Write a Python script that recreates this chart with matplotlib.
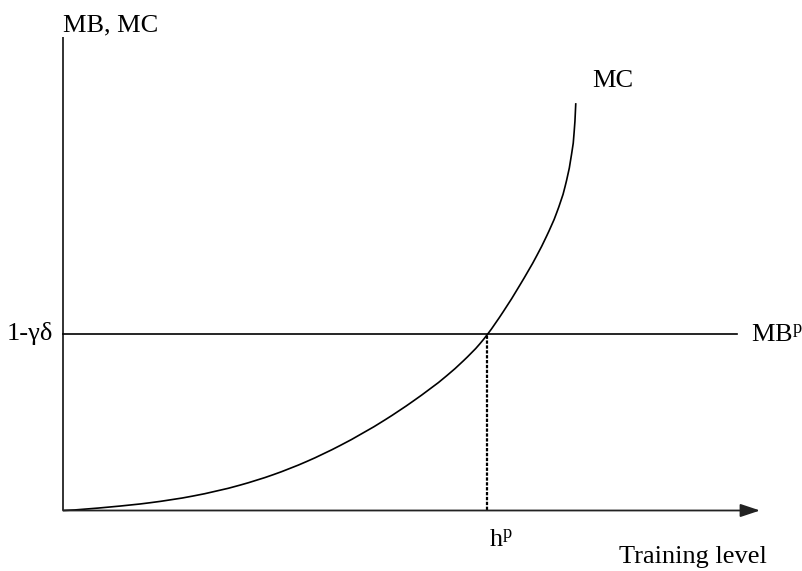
import matplotlib
matplotlib.use("Agg")
import matplotlib.pyplot as plt
from matplotlib.path import Path
from matplotlib.patches import PathPatch

plt.rcParams["font.family"] = ["Liberation Serif", "DejaVu Serif"]
plt.rcParams["mathtext.fontset"] = "custom"
plt.rcParams["mathtext.rm"] = "Liberation Serif"
plt.rcParams["mathtext.it"] = "Liberation Serif:italic"

# Marginal cost of training (training level in units of h^p, cost in units of 1-γδ)
mc_x = [0.0, 0.111, 0.205, 0.306, 0.417, 0.495, 0.574, 0.653, 0.759, 0.825,
        0.904, 0.943, 0.982, 1.0, 1.037, 1.077, 1.116, 1.139, 1.163, 1.183,
        1.196, 1.204, 1.208]
mc_y = [0.0, 0.020, 0.044, 0.082, 0.144, 0.203, 0.278, 0.369, 0.515, 0.621,
        0.765, 0.849, 0.946, 1.0, 1.128, 1.282, 1.446, 1.556, 1.690, 1.841,
        1.992, 2.144, 2.312]

# Private marginal benefit (flat) and the private optimum
mb_level = 1.0
mb_end = 1.588
h_p = 1.0

x_axis_end = 1.642
y_axis_top = 2.687


def smooth_path(xs, ys):
    """Cubic Hermite curve through the points, written as Bezier segments."""
    n = len(xs)
    h = [xs[i + 1] - xs[i] for i in range(n - 1)]
    d = [(ys[i + 1] - ys[i]) / h[i] for i in range(n - 1)]
    m = [0.0] * n
    m[0] = 0.5 * d[0]
    for i in range(1, n - 1):
        m[i] = (d[i - 1] * h[i] + d[i] * h[i - 1]) / (h[i - 1] + h[i])
    m[-1] = 1.5 * d[-1]
    verts = [(xs[0], ys[0])]
    codes = [Path.MOVETO]
    for i in range(n - 1):
        c1 = (xs[i] + h[i] / 3, ys[i] + m[i] * h[i] / 3)
        c2 = (xs[i + 1] - h[i] / 3, ys[i + 1] - m[i + 1] * h[i] / 3)
        verts += [c1, c2, (xs[i + 1], ys[i + 1])]
        codes += [Path.CURVE4] * 3
    return Path(verts, codes)


fig = plt.figure(figsize=(8.02, 5.71), dpi=100)
ax = fig.add_axes([0, 0, 1, 1])
ax.set_xlim(-0.1484, 1.7409)
ax.set_ylim(-0.3434, 2.8973)
ax.axis("off")

fs = 19

# axes
ax.plot([0, 0], [0, y_axis_top], color="#222222", lw=1.3, solid_capstyle="butt")
ax.annotate("", xy=(x_axis_end, 0), xytext=(0, 0),
            arrowprops=dict(arrowstyle="-|>,head_length=0.6,head_width=0.2",
                            mutation_scale=20, color="#222222", lw=1.3,
                            shrinkA=0, shrinkB=0))

# MB line
ax.plot([0, mb_end], [mb_level, mb_level], color="black", lw=1.2)

# MC curve
ax.add_patch(PathPatch(smooth_path(mc_x, mc_y), facecolor="none",
                       edgecolor="black", lw=1.2))

# optimum drop line
ax.plot([h_p, h_p], [0, mb_level], color="black", lw=1.6,
        linestyle=(0, (1.5, 0.7)))

# labels
ax.text(0, 2.721, "MB, MC", fontsize=fs, ha="left", va="baseline")
ax.text(-0.0236, 0.968, "1-γδ", fontsize=fs, ha="right", va="baseline")
ax.text(1.620, 0.958, r"MB$^{\mathrm{p}}$", fontsize=fs, ha="left", va="baseline")
ax.text(1.246, 2.402, "MC", fontsize=fs, ha="left", va="baseline")
ax.text(h_p + 0.0035, -0.205, r"h$^{\mathrm{p}}$", fontsize=fs, ha="left", va="baseline")
ax.text(1.658, -0.300, "Training level", fontsize=fs, ha="right", va="baseline")

fig.savefig("out.png", dpi=100)
